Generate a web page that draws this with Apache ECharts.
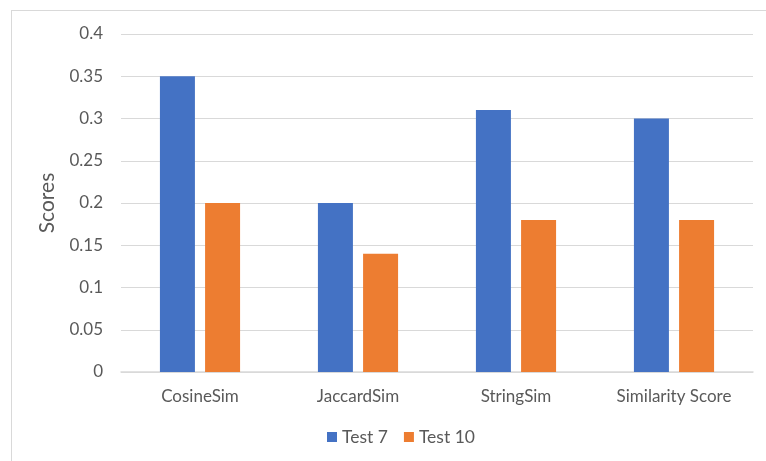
<!DOCTYPE html>
<html>
<head>
<meta charset="utf-8">
<script src="https://cdn.jsdelivr.net/npm/echarts@6/dist/echarts.min.js"></script>
<style>
  html, body { margin: 0; padding: 0; background: #fff; }
  #frame { position: absolute; left: 11px; top: 10px; width: 800px; height: 500px;
           border-left: 1px solid #d9d9d9; border-top: 1px solid #d9d9d9; }
  #chart { position: absolute; left: 0; top: 0; width: 766px; height: 461px; }
</style>
</head>
<body>
<div id="frame"></div>
<div id="chart"></div>
<script>
// Similarity metrics compared across two test runs
const categories = ['CosineSim', 'JaccardSim', 'StringSim', 'Similarity Score'];
const test7 = [0.35, 0.20, 0.31, 0.30];
const test10 = [0.20, 0.14, 0.18, 0.18];
const yTicks = [0, 0.05, 0.1, 0.15, 0.2, 0.25, 0.3, 0.35, 0.4];

const font = 'Lato, "Open Sans", sans-serif';
const chart = echarts.init(document.getElementById('chart'));
chart.setOption({
  animation: false,
  textStyle: { fontFamily: font },
  grid: { left: 121, right: 13, top: 34, bottom: 89, containLabel: false },
  legend: {
    bottom: 10,
    left: 322,
    itemWidth: 10,
    itemHeight: 10,
    itemGap: 16,
    icon: 'rect',
    textStyle: { color: '#595959', fontSize: 17.5, fontFamily: font },
    data: ['Test 7', 'Test 10']
  },
  xAxis: {
    type: 'category',
    data: categories,
    axisLine: { lineStyle: { color: '#d9d9d9', width: 1.5 } },
    axisTick: { show: false },
    axisLabel: { color: '#595959', fontSize: 17, margin: 16, fontFamily: font }
  },
  yAxis: {
    type: 'value',
    min: yTicks[0],
    max: yTicks[yTicks.length - 1],
    interval: 0.05,
    name: 'Scores',
    nameLocation: 'middle',
    nameGap: 63,
    nameTextStyle: { color: '#595959', fontSize: 21, fontFamily: font },
    axisLine: { show: false },
    axisTick: { show: false },
    splitLine: { lineStyle: { color: '#d9d9d9', width: 1 } },
    axisLabel: {
      color: '#595959', fontSize: 17, margin: 18, fontFamily: font,
      formatter: v => String(parseFloat(v.toFixed(2)))
    }
  },
  series: [
    {
      name: 'Test 7', type: 'bar', data: test7,
      barWidth: 35, barGap: '29%',
      itemStyle: { color: '#4472C4' }
    },
    {
      name: 'Test 10', type: 'bar', data: test10,
      barWidth: 35,
      itemStyle: { color: '#ED7D31' }
    }
  ]
});
</script>
</body>
</html>
